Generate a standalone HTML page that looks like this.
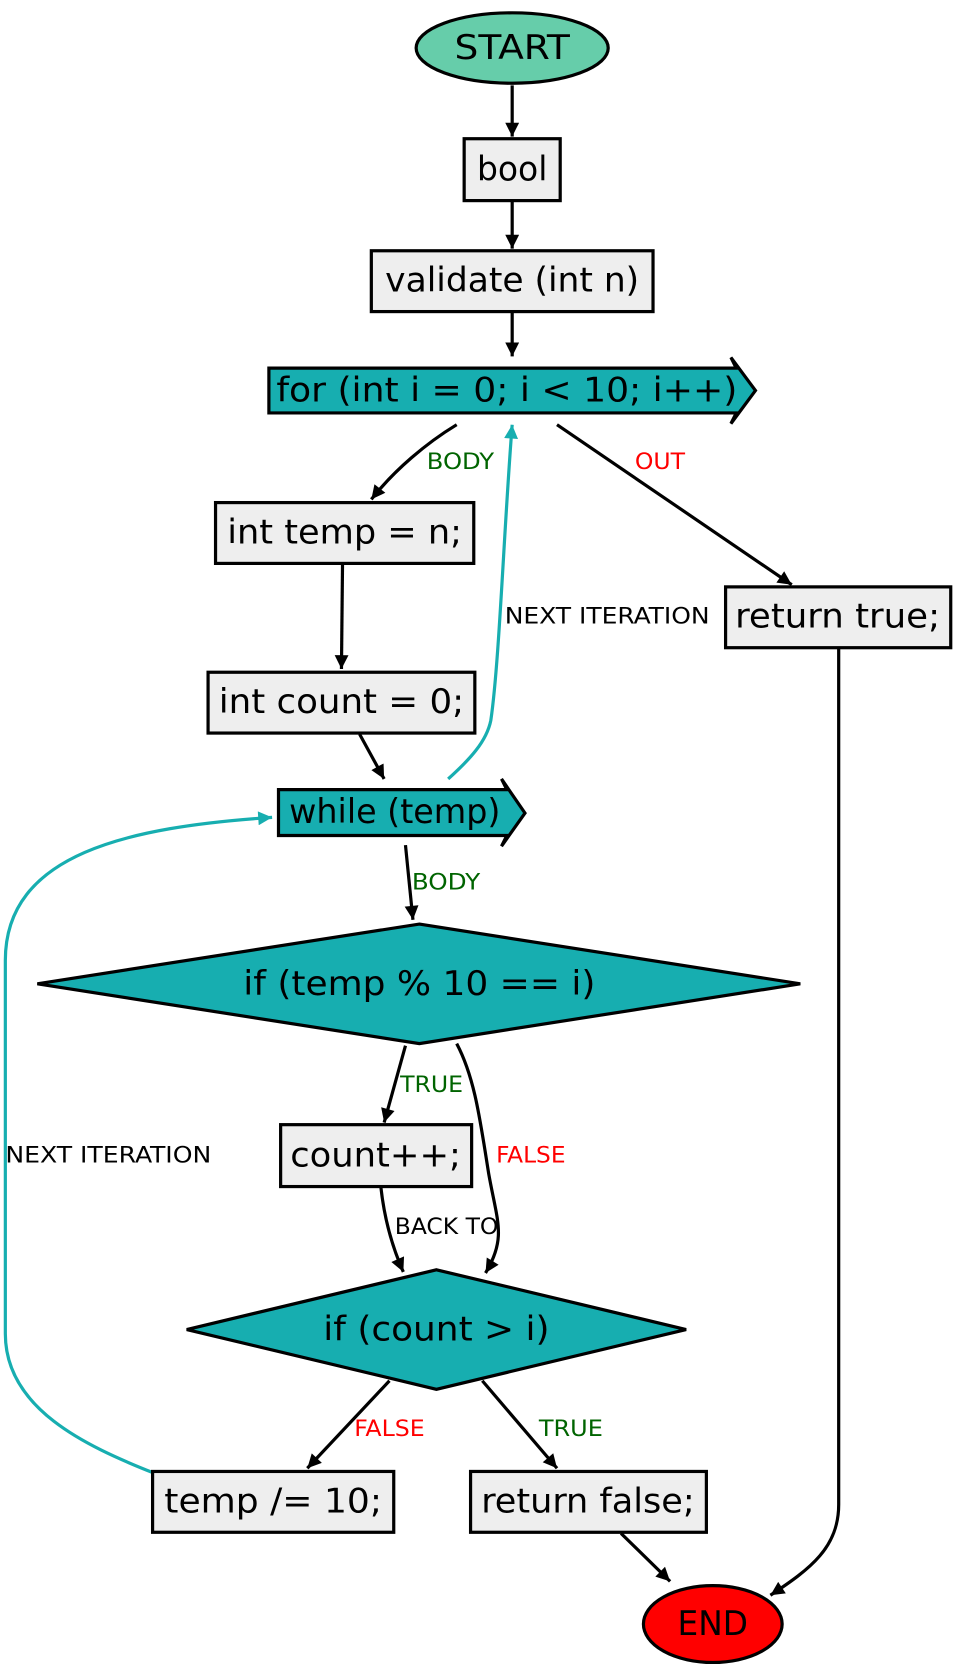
<!DOCTYPE html>
<html><head><meta charset="utf-8"><style>
html,body{margin:0;padding:0;background:#fff}
svg{display:block}
text{font-family:"DejaVu Sans Condensed","Liberation Sans",sans-serif}
.n{font-size:32px;fill:#000;text-anchor:middle;dominant-baseline:central}
.l{font-size:21px;dominant-baseline:central}
.e{fill:none;stroke:#000;stroke-width:3}
.t{fill:none;stroke:#17aeb0;stroke-width:3}
.box{fill:#eeeeee;stroke:#000;stroke-width:3}
.tl{fill:#17aeb0;stroke:#000;stroke-width:3}
</style></head><body>
<svg width="955" height="1671" viewBox="0 0 895 1566" xmlns="http://www.w3.org/2000/svg">
<defs>
<marker id="ak" viewBox="0 0 10 10" markerWidth="18" markerHeight="13" refX="10" refY="5" orient="auto" markerUnits="userSpaceOnUse"><path d="M0,0 L10,5 L0,10 z" fill="#000"/></marker>
<marker id="at" viewBox="0 0 10 10" markerWidth="18" markerHeight="13" refX="10" refY="5" orient="auto" markerUnits="userSpaceOnUse"><path d="M0,0 L10,5 L0,10 z" fill="#17aeb0"/></marker>
</defs>

<g>
<path class="e" d="M480,80 L480,128" marker-end="url(#ak)"/>
<path class="e" d="M480,188 L480,233" marker-end="url(#ak)"/>
<path class="e" d="M480,293 L480,334" marker-end="url(#ak)"/>
<path class="e" d="M428,398 C400,415 370,440 348,468" marker-end="url(#ak)"/>
<path class="e" d="M522,398 L742,548" marker-end="url(#ak)"/>
<path class="e" d="M321,529 L320,627" marker-end="url(#ak)"/>
<path class="e" d="M337,688 L360,730" marker-end="url(#ak)"/>
<path class="t" d="M420,730 C440,712 456,695 460,675 C468,620 472,500 480,398" marker-end="url(#at)"/>
<path class="e" d="M380,792 L387,862" marker-end="url(#ak)"/>
<path class="e" d="M380,980 L360,1052" marker-end="url(#ak)"/>
<path class="e" d="M428,978 C445,1010 450,1050 458,1100 C466,1145 475,1160 455,1193" marker-end="url(#ak)"/>
<path class="e" d="M357,1113 C360,1140 366,1165 378,1192" marker-end="url(#ak)"/>
<path class="e" d="M365,1294 L288,1376" marker-end="url(#ak)"/>
<path class="e" d="M452,1294 L522,1376" marker-end="url(#ak)"/>
<path class="t" d="M143,1380 C80,1355 5,1320 5,1250 L5,900 C5,800 120,775 255,766" marker-end="url(#at)"/>
<path class="e" d="M582,1437 L628,1482" marker-end="url(#ak)"/>
<path class="e" d="M786,607 L786,1410 C786,1450 760,1470 722,1495" marker-end="url(#ak)"/>
</g>

<text class="l" x="400" y="433" fill="#006400" textLength="63" lengthAdjust="spacingAndGlyphs">BODY</text>
<text class="l" x="595" y="433" fill="#ff0000" textLength="47" lengthAdjust="spacingAndGlyphs">OUT</text>
<text class="l" x="473" y="578" fill="#000" textLength="192" lengthAdjust="spacingAndGlyphs">NEXT ITERATION</text>
<text class="l" x="386" y="827" fill="#006400" textLength="64" lengthAdjust="spacingAndGlyphs">BODY</text>
<text class="l" x="375" y="1017" fill="#006400" textLength="59" lengthAdjust="spacingAndGlyphs">TRUE</text>
<text class="l" x="465" y="1083" fill="#ff0000" textLength="65" lengthAdjust="spacingAndGlyphs">FALSE</text>
<text class="l" x="370" y="1150" fill="#000" textLength="97" lengthAdjust="spacingAndGlyphs">BACK TO</text>
<text class="l" x="5" y="1083" fill="#000" textLength="193" lengthAdjust="spacingAndGlyphs">NEXT ITERATION</text>
<text class="l" x="332" y="1339" fill="#ff0000" textLength="66" lengthAdjust="spacingAndGlyphs">FALSE</text>
<text class="l" x="505" y="1339" fill="#006400" textLength="60" lengthAdjust="spacingAndGlyphs">TRUE</text>

<g>
<ellipse cx="480" cy="45" rx="90" ry="33" fill="#66cdaa" stroke="#000" stroke-width="3"/>
<text class="n" x="480" y="45" textLength="108" lengthAdjust="spacingAndGlyphs">START</text></g>

<g>
<rect class="box" x="435" y="130" width="90" height="58"/>
<text class="n" x="480" y="159" textLength="66" lengthAdjust="spacingAndGlyphs">bool</text></g>

<g>
<rect class="box" x="348" y="235" width="264" height="57"/>
<text class="n" x="480" y="263" textLength="238" lengthAdjust="spacingAndGlyphs">validate (int n)</text></g>

<g>
<path class="tl" d="M252,345 L690,345 L685,335 L708,366 L685,397 L690,387 L252,387 Z"/>
<text class="n" x="475" y="366" textLength="432" lengthAdjust="spacingAndGlyphs">for (int i = 0; i &lt; 10; i++)</text></g>

<g>
<rect class="box" x="202" y="471" width="242" height="57"/>
<text class="n" x="323" y="499" textLength="220" lengthAdjust="spacingAndGlyphs">int temp = n;</text></g>

<g>
<rect class="box" x="680" y="550" width="211" height="57"/>
<text class="n" x="785" y="578" textLength="192" lengthAdjust="spacingAndGlyphs">return true;</text></g>

<g>
<rect class="box" x="195" y="630" width="250" height="57"/>
<text class="n" x="320" y="658" textLength="230" lengthAdjust="spacingAndGlyphs">int count = 0;</text></g>

<g>
<path class="tl" d="M261,740 L475,740 L470,730 L492,762 L470,793 L475,783 L261,783 Z"/>
<text class="n" x="370" y="761" textLength="198" lengthAdjust="spacingAndGlyphs">while (temp)</text></g>

<g>
<path class="tl" d="M393,866 L750,922 L393,978 L35,922 Z"/>
<text class="n" x="393" y="922" textLength="330" lengthAdjust="spacingAndGlyphs">if (temp % 10 == i)</text></g>

<g>
<rect class="box" x="263" y="1054" width="179" height="58"/>
<text class="n" x="352" y="1083" textLength="160" lengthAdjust="spacingAndGlyphs">count++;</text></g>

<g>
<path class="tl" d="M409,1190 L643,1246 L409,1302 L175,1246 Z"/>
<text class="n" x="409" y="1246" textLength="212" lengthAdjust="spacingAndGlyphs">if (count &gt; i)</text></g>

<g>
<rect class="box" x="143" y="1379" width="226" height="57"/>
<text class="n" x="256" y="1407" textLength="204" lengthAdjust="spacingAndGlyphs">temp /= 10;</text></g>

<g>
<rect class="box" x="441" y="1379" width="221" height="57"/>
<text class="n" x="551" y="1407" textLength="200" lengthAdjust="spacingAndGlyphs">return false;</text></g>

<g>
<ellipse cx="668" cy="1522" rx="65" ry="36" fill="#ff0000" stroke="#000" stroke-width="3"/>
<text class="n" x="668" y="1522" textLength="66" lengthAdjust="spacingAndGlyphs">END</text></g>
</svg>
</body></html>
